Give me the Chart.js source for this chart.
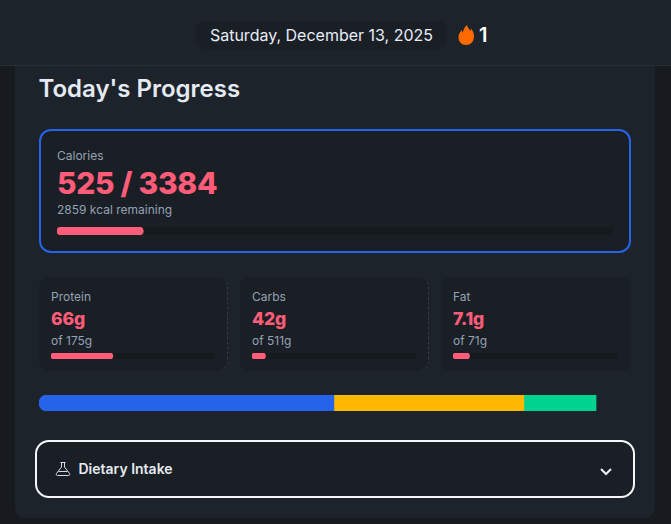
<!DOCTYPE html>
<html><head><meta charset="utf-8">
<script src="https://cdn.jsdelivr.net/npm/chart.js@4"></script>
<style>
*{box-sizing:border-box;margin:0;padding:0}
html,body{width:671px;height:524px;overflow:hidden;background:#171a1f;font-family:Inter,sans-serif}
div,span,h2,canvas,svg{position:absolute;white-space:nowrap}
#header{left:0;top:0;width:671px;height:66px;background:#1d232b;border-bottom:1px solid #282d36}
#card{left:15px;top:66px;width:640px;height:452px;background:#1d232b;border-radius:0 0 10px 10px}
#datePill{left:196px;top:21px;width:251px;height:28px;background:#1a1e25;border-radius:9px;color:#e7edf5;font-size:16px;line-height:28px;text-align:center;font-weight:400}
#streak{left:479px;top:22px;color:#fff;font-size:20px;font-weight:600;line-height:26px}
#title{left:38.5px;top:74px;color:#e5eaf2;font-size:24px;line-height:30px;font-weight:600}
.box{background:#1a1e25}
#calBox{left:39px;top:129px;width:592px;height:124px;border:2px solid #2563eb;border-radius:12px}
.m{border-radius:10px;top:277px;height:94px}
.dash{border-right:1px dashed #343a44}
.lab{color:#94a3b3;font-size:12px;line-height:16px}
.val{color:#ff5c7a;font-weight:800}
.small{font-size:17.6px;line-height:24px;top:306.5px;letter-spacing:-0.15px}
#dietBox{left:35px;top:440px;width:600px;height:58px;border:2px solid #f4f6f9;border-radius:14px}
#dietText{left:78.5px;top:460px;color:#e5eaf2;font-size:14px;font-weight:600;line-height:18px}
</style></head><body>
<div id="header"></div>
<div id="card"></div>
<div id="datePill">Saturday, December 13, 2025</div>
<svg style="left:458px;top:25px" width="16" height="20" viewBox="0 0 16 20"><path fill="#ff6a00" d="M9 0c.5 2.500 2 3.700 3.600 6 .3-.9.4-1.600.3-2.400C14.800 5.800 16 8.300 16 11.500 16 16.500 12.500 20 8 20S.5 16.500.5 12c0-3.300 1.800-5 3.200-7 .2 1 .5 1.700 1.200 2.400C5.300 4.500 6.800 2 9 0z"/></svg>
<span id="streak">1</span>
<h2 id="title">Today's Progress</h2>

<div id="calBox" class="box"></div>
<span class="lab" style="left:57px;top:148px">Calories</span>
<span class="val" style="left:57px;top:164px;font-size:30px;line-height:38px;letter-spacing:-0.3px" id="calVal"></span>
<span class="lab" style="left:57px;top:202px" id="calRem"></span>
<canvas id="calBar" style="left:57px;top:227px;width:556px;height:8px"></canvas>

<div class="m box dash" style="left:39px;width:189px"></div>
<div class="m box dash" style="left:240px;width:189px"></div>
<div class="m box" style="left:441px;width:190px"></div>

<span class="lab" style="left:51px;top:289px">Protein</span>
<span class="val small" style="left:51px" id="v0"></span>
<span class="lab" style="left:51px;top:333px" id="t0"></span>
<canvas id="b0" style="left:51px;top:353px;width:164px;height:6px"></canvas>

<span class="lab" style="left:252px;top:289px">Carbs</span>
<span class="val small" style="left:252px" id="v1"></span>
<span class="lab" style="left:252px;top:333px" id="t1"></span>
<canvas id="b1" style="left:252px;top:353px;width:164px;height:6px"></canvas>

<span class="lab" style="left:453px;top:289px">Fat</span>
<span class="val small" style="left:453px" id="v2"></span>
<span class="lab" style="left:453px;top:333px" id="t2"></span>
<canvas id="b2" style="left:453px;top:353px;width:165px;height:6px"></canvas>

<canvas id="macroBar" style="left:39px;top:395px;width:592px;height:16px"></canvas>

<div id="dietBox" class="box"></div>
<svg style="left:55px;top:461px" width="16" height="16" viewBox="0 0 16 16" fill="none" stroke="#d5dbe3" stroke-width="1"><path d="M5.500 1.500h5M6.500 1.500v4.500L1.500 12.500c-.8 1.200 0 2 1 2h11c1 0 1.800-.8 1-2L9.500 6V1.500M3.500 10.500h9"/></svg>
<span id="dietText">Dietary Intake</span>
<svg style="left:599px;top:467px" width="14" height="10" viewBox="0 0 14 10" fill="none" stroke="#f0f3f7" stroke-width="2"><path d="M2 2l5 5 5-5"/></svg>

<script>
const macroNames = ["Protein", "Carbs", "Fat"];
const macroGrams = [66, 42, 7.1];
const macroTargets = [175, 511, 71];
const caloriesEaten = 525;
const caloriesTarget = 3384;
const macroKcal = [261.5, 168.5, 64];
const macroKcalColors = ["#2563eb", "#ffb700", "#00d28f"];
const PINK = "#ff5c7a", TRACK = "#16191d";

document.getElementById("calVal").textContent = caloriesEaten + " / " + caloriesTarget;
document.getElementById("calRem").textContent = (caloriesTarget - caloriesEaten) + " kcal remaining";
macroNames.forEach((n, i) => {
  document.getElementById("v" + i).textContent = macroGrams[i] + "g";
  document.getElementById("t" + i).textContent = "of " + macroTargets[i] + "g";
});

const baseOpts = (max, stacked) => ({
  indexAxis: "y", responsive: false, animation: false, devicePixelRatio: 2,
  layout: { padding: 0 },
  plugins: { legend: { display: false }, tooltip: { enabled: false } },
  scales: {
    x: { display: false, min: 0, max, stacked, grid: { display: false } },
    y: { display: false, stacked, grid: { display: false } }
  }
});
function progress(id, label, value, target, r) {
  const c = document.getElementById(id);
  const w = parseInt(c.style.width), h = parseInt(c.style.height);
  c.width = w; c.height = h;
  new Chart(c, { type: "bar",
    data: { labels: [label], datasets: [
      { data: [value], backgroundColor: PINK, borderRadius: r, borderSkipped: false, barPercentage: 1, categoryPercentage: 1, grouped: false, order: 0 },
      { data: [target], backgroundColor: TRACK, borderRadius: r, borderSkipped: false, barPercentage: 1, categoryPercentage: 1, grouped: false, order: 1 }
    ]},
    options: baseOpts(target, false) });
}
progress("calBar", "Calories", caloriesEaten, caloriesTarget, 4);
macroNames.forEach((n, i) => progress("b" + i, n, macroGrams[i], macroTargets[i], 3));

const mc = document.getElementById("macroBar");
mc.width = 592; mc.height = 16;
new Chart(mc, { type: "bar",
  data: { labels: ["Macros"], datasets: macroNames.map((n, i) => ({
    label: n, data: [macroKcal[i]], backgroundColor: macroKcalColors[i],
    barPercentage: 1, categoryPercentage: 1, borderSkipped: false,
    borderRadius: i === 0 ? { topLeft: 8, bottomLeft: 8 } : 0
  }))},
  options: baseOpts(caloriesEaten, true) });
</script>
</body></html>
